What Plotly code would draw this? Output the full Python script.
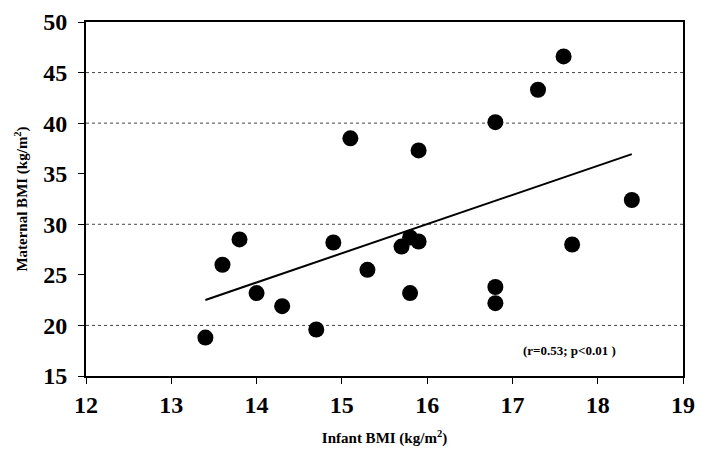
import numpy as np
import plotly.graph_objects as go

infant_bmi = [13.4, 13.6, 13.8, 14.0, 14.3, 14.7, 14.9, 15.1, 15.3, 15.7, 15.8,
              15.8, 15.9, 15.9, 16.8, 16.8, 16.8, 17.3, 17.6, 17.7, 18.4]
maternal_bmi = [18.8, 26.0, 28.5, 23.2, 21.9, 19.6, 28.2, 38.5, 25.5, 27.8, 28.7,
                23.2, 28.3, 37.3, 40.1, 23.8, 22.2, 43.3, 46.6, 28.0, 32.4]
grid_values = [20, 30, 40, 45]
x_ticks = [12, 13, 14, 15, 16, 17, 18, 19]
y_ticks = [15, 20, 25, 30, 35, 40, 45, 50]
stats_text = "(r=0.53; p<0.01 )"

slope, intercept = np.polyfit(infant_bmi, maternal_bmi, 1)
fit_x = [min(infant_bmi), max(infant_bmi)]
fit_y = [slope * v + intercept for v in fit_x]

font = "Liberation Serif, Times New Roman, serif"

fig = go.Figure()
fig.add_trace(go.Scatter(x=infant_bmi, y=maternal_bmi, mode="markers",
                         marker=dict(color="black", size=16), showlegend=False))
fig.add_trace(go.Scatter(x=fit_x, y=fit_y, mode="lines",
                         line=dict(color="black", width=2), showlegend=False))

for g in grid_values:
    fig.add_shape(type="line", xref="paper", x0=0, x1=1, yref="y", y0=g, y1=g,
                  line=dict(color="#444444", width=1, dash="dot"), layer="below")

fig.add_annotation(x=17.67, y=17.5, text="<b>" + stats_text + "</b>", showarrow=False,
                   font=dict(family=font, size=13, color="black"))

axis_common = dict(showgrid=False, zeroline=False, showline=True, linecolor="black",
                   linewidth=2, mirror=True, ticks="outside", ticklen=6, tickwidth=1,
                   tickcolor="black", automargin=False,
                   tickfont=dict(family=font, size=24, color="black", weight="bold"))

fig.update_xaxes(range=[12, 19], tickvals=x_ticks, **axis_common,
                 title=dict(text="<b>Infant BMI (kg/m<sup>2</sup>)</b>",
                            font=dict(family=font, size=15, color="black"), standoff=16))
fig.update_yaxes(range=[15, 50], tickvals=y_ticks, **axis_common, ticklabelstandoff=6,
                 title=dict(text="<b>Maternal BMI (kg/m<sup>2</sup>)</b>",
                            font=dict(family=font, size=15, color="black"), standoff=12))

fig.update_layout(width=707, height=465, margin=dict(l=86, r=24, t=22, b=89),
                  plot_bgcolor="white", paper_bgcolor="white")

fig.write_html("out.html", config={"displayModeBar": False},
               post_script="document.body.style.margin='0';")
